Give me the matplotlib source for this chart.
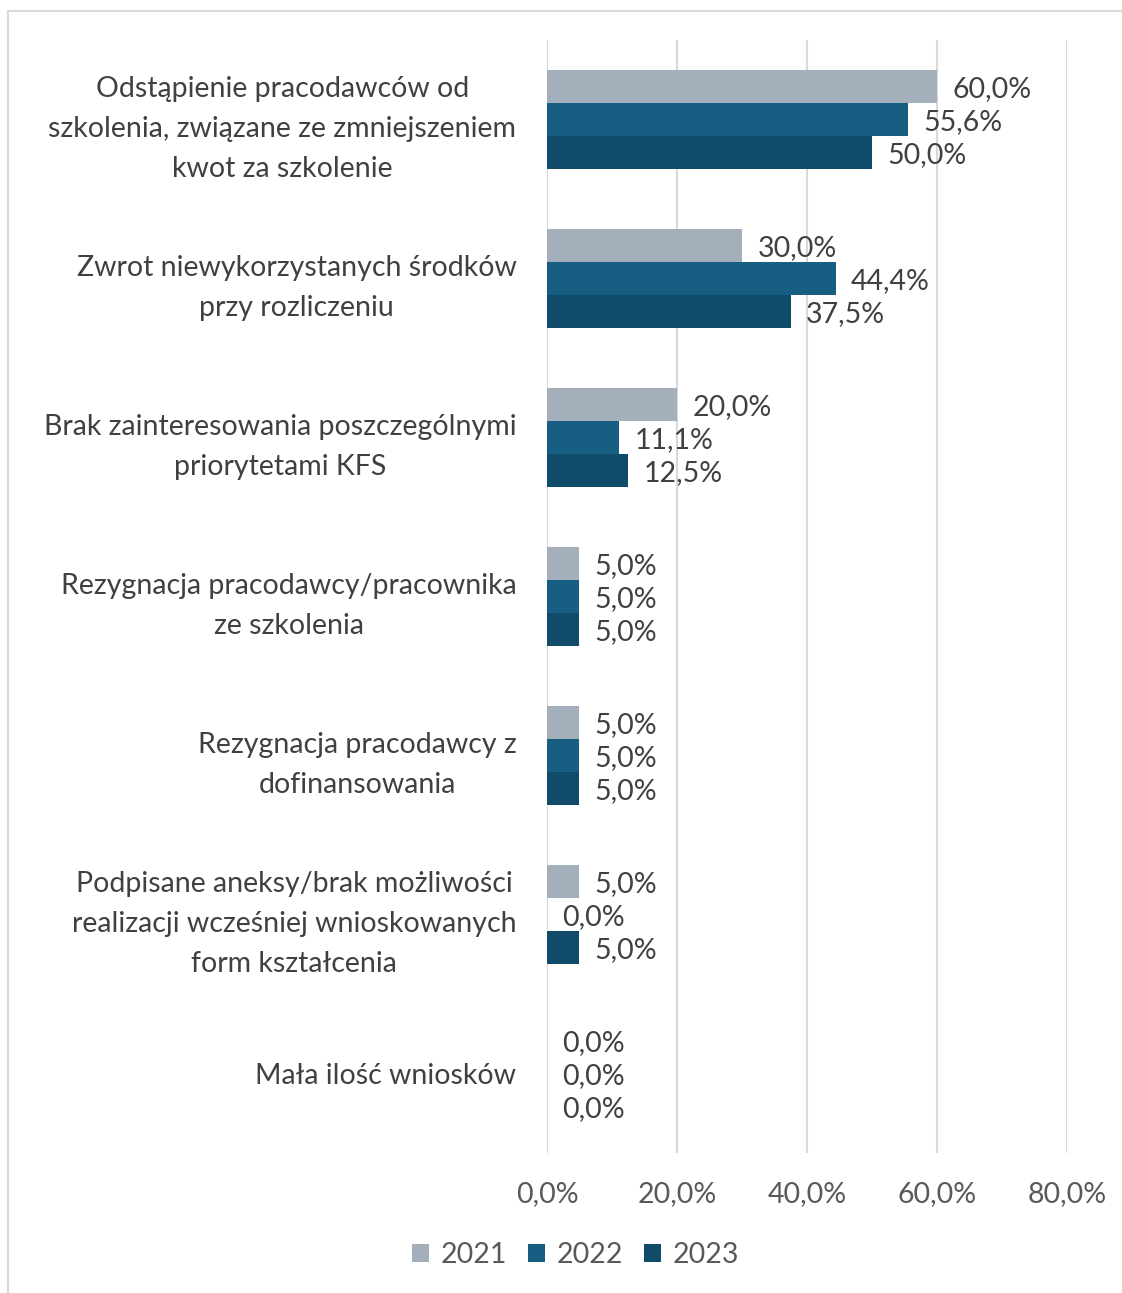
import numpy as np
import matplotlib.pyplot as plt
from matplotlib.patches import Rectangle

categories = [
    'Odstąpienie pracodawców od\nszkolenia, związane ze zmniejszeniem\nkwot za szkolenie',
    'Zwrot niewykorzystanych środków\nprzy rozliczeniu',
    'Brak zainteresowania poszczególnymi\npriorytetami KFS',
    'Rezygnacja pracodawcy/pracownika\nze szkolenia',
    'Rezygnacja pracodawcy z\ndofinansowania',
    'Podpisane aneksy/brak możliwości\nrealizacji wcześniej wnioskowanych\nform kształcenia',
    'Mała ilość wniosków',
]
years = ['2021', '2022', '2023']
v2021 = [60.0, 30.0, 20.0, 5.0, 5.0, 5.0, 0.0]
v2022 = [55.6, 44.4, 11.1, 5.0, 5.0, 0.0, 0.0]
v2023 = [50.0, 37.5, 12.5, 5.0, 5.0, 5.0, 0.0]
colors = ['#A3AFBA', '#175F82', '#104B69']

plt.rcParams['font.family'] = ['Lato', 'DejaVu Sans']
fs = 20.5

fig = plt.figure(figsize=(11.22, 12.93), dpi=100)
ax = fig.add_axes([0.4875, 0.108, 0.951 - 0.4875, 0.969 - 0.108])

y = np.arange(len(categories))
h = 0.2075
for k, (vals, col, yr) in enumerate(zip([v2021, v2022, v2023], colors, years)):
    pos = y + (k - 1) * h
    ax.barh(pos, vals, height=h, color=col, label=yr, zorder=3)
    for p, v in zip(pos, vals):
        ax.annotate(f'{v:.1f}%'.replace('.', ','), (v, p), xytext=(11, -1.5),
                    textcoords='offset points', va='center', ha='left',
                    fontsize=fs, color='#404040')

ax.set_xlim(0, 80)
ax.set_ylim(len(categories) - 0.5, -0.5)
ax.set_xticks([0, 20, 40, 60, 80])
ax.set_xticklabels(['0,0%', '20,0%', '40,0%', '60,0%', '80,0%'],
                   fontsize=fs, color='#595959')
ax.set_yticks(y)
ax.set_yticklabels(categories, fontsize=fs, color='#404040',
                   multialignment='center', linespacing=1.65)
ax.tick_params(axis='both', length=0)
ax.tick_params(axis='y', pad=22)
ax.tick_params(axis='x', pad=20)
ax.grid(axis='x', color='#D9D9D9', linewidth=1.5, zorder=0)
for s in ax.spines.values():
    s.set_visible(False)

fig.legend(loc='center', bbox_to_anchor=(0.513, 1 - 1255 / 1293), ncol=3,
           frameon=False, fontsize=fs, labelcolor='#595959',
           handlelength=0.6, handleheight=0.6, handletextpad=0.4,
           columnspacing=0.75)

fig.patches.append(Rectangle((8 / 1122, -0.01), 1.2, 1 - 11 / 1293 + 0.01,
                             transform=fig.transFigure, fill=False,
                             edgecolor='#D9D9D9', linewidth=1.5))

fig.savefig('out.png', dpi=100)
